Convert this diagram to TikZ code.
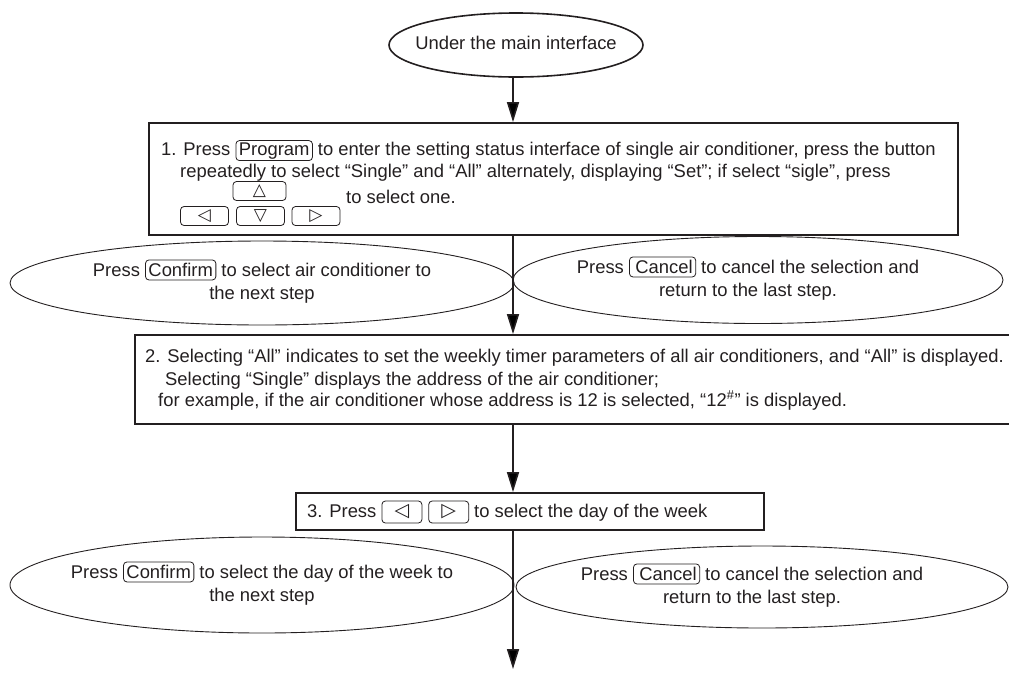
\documentclass[tikz,border=0pt]{standalone}
\usepackage{fontspec}
\setmainfont{Liberation Sans}
\newfontfamily\symsans{DejaVu Sans}
\definecolor{inkgray}{HTML}{231F20}
\usetikzlibrary{shapes.geometric,arrows.meta,positioning}

\tikzset{
  keycap/.style={rectangle, anchor=center, minimum width=0pt, minimum height=20pt, rounded corners=3.5pt, draw=inkgray, line width=0.8pt, inner xsep=3pt, inner ysep=0pt, text=inkgray, font=\rmfamily\fontsize{18.4}{22}\selectfont},
  arrowkey/.style={rectangle, anchor=center, rounded corners=3.5pt, draw=inkgray, line width=0.8pt, minimum width=48pt, minimum height=19pt, inner sep=0pt, text=inkgray, font=\symsans\fontsize{17}{17}\selectfont}
}
\newcommand{\keycap}[1]{\tikz[baseline=(kc.base)]\node[keycap] (kc) {#1};}
\newcommand{\keyarrow}[1]{\tikz[baseline={([yshift=-5pt]ka.center)}]\node[arrowkey, minimum width=40pt, minimum height=22pt, font=\symsans\fontsize{19}{19}\selectfont] (ka) {#1};}
\newcommand{\ovaltext}[1]{\makebox[0pt]{\begin{tabular}{@{}c@{}}#1\end{tabular}}}

\begin{document}
\begin{tikzpicture}[x=1pt, y=-1pt,
  every node/.style={text=inkgray},
  oval/.style={ellipse, draw=inkgray, line width=0.9pt, inner sep=0pt, font=\fontsize{18.4}{23}\selectfont},
  stepbox/.style={rectangle, draw=inkgray, line width=1.8pt, inner sep=0pt},
  line/.style={inner sep=0pt, anchor=base west, font=\fontsize{18.4}{22}\selectfont},
  edge/.style={-{Triangle[length=20pt, width=12pt]}, line width=1.6pt, draw=inkgray}
]
  \useasboundingbox (0,0) rectangle (1009,681);
  \coordinate (axis) at (513,0);

  % Start
  \node[oval, line width=1.6pt, minimum width=254pt, minimum height=64pt] (start) at (516,45) {\ovaltext{Under the main interface}};

  % Step 1
  \node[stepbox, minimum width=809pt, minimum height=112pt] (step1) at (553.5,179) {};
  \node[line] (s1a) at (161,155) {1. Press \keycap{Program} to enter the setting status interface of single air conditioner, press the button};
  \node[line] (s1b) at (180,177) {repeatedly to select “Single” and “All” alternately, displaying “Set”; if select “sigle”, press};
  \node[arrowkey, minimum width=53pt] (kup) at (259.5,191) {△};
  \node[line] (s1c) at (346,203) {to select one.};
  \node[arrowkey] (kleft) at (204.5,216) {◁};
  \node[arrowkey] (kdown) at (260.5,216) {▽};
  \node[arrowkey] (kright) at (316,216) {▷};

  % Branches after step 1
  \node[oval, minimum width=504pt, minimum height=84pt] (okA) at (262,283) {\ovaltext{Press \keycap{Confirm} to select air conditioner to\\the next step}};
  \node[oval, minimum width=490pt, minimum height=87pt] (noA) at (758,280) {\ovaltext{\hspace*{-20pt}Press \keycap{\hspace{3pt}Cancel\hspace{3pt}} to cancel the selection and\\\hspace*{-20pt}return to the last step.}};

  % Step 2
  \node[stepbox, minimum width=877pt, minimum height=89pt] (step2) at (573.5,379.5) {};
  \node[line] (s2a) at (145,362) {2. Selecting “All” indicates to set the weekly timer parameters of all air conditioners, and “All” is displayed.};
  \node[line] (s2b) at (165,385) {Selecting “Single” displays the address of the air conditioner;};
  \node[line] (s2c) at (158,406) {for example, if the air conditioner whose address is 12 is selected, “12\textsuperscript{\#}” is displayed.};

  % Step 3
  \node[stepbox, minimum width=468pt, minimum height=37pt] (step3) at (530,511.5) {};
  \node[line] (s3a) at (307,517) {3. Press \keyarrow{◁}\hspace{6pt}\keyarrow{▷} to select the day of the week};

  % Branches after step 3
  \node[oval, minimum width=504pt, minimum height=96pt] (okB) at (262,585) {\ovaltext{Press \keycap{Confirm} to select the day of the week to\\the next step}};
  \node[oval, minimum width=492pt, minimum height=82pt] (noB) at (762,587) {\ovaltext{\hspace*{-20pt}Press \keycap{\hspace{3pt}Cancel\hspace{3pt}} to cancel the selection and\\\hspace*{-20pt}return to the last step.}};
  \coordinate (done) at (513,669);

  % Edges
  \draw[edge] (start.south -| axis) -- (step1.north -| axis);
  \draw[edge] (step1.south -| axis) -- (step2.north -| axis);
  \draw[edge] (step2.south -| axis) -- (step3.north -| axis);
  \draw[edge] (step3.south -| axis) -- (done);
\end{tikzpicture}
\end{document}
